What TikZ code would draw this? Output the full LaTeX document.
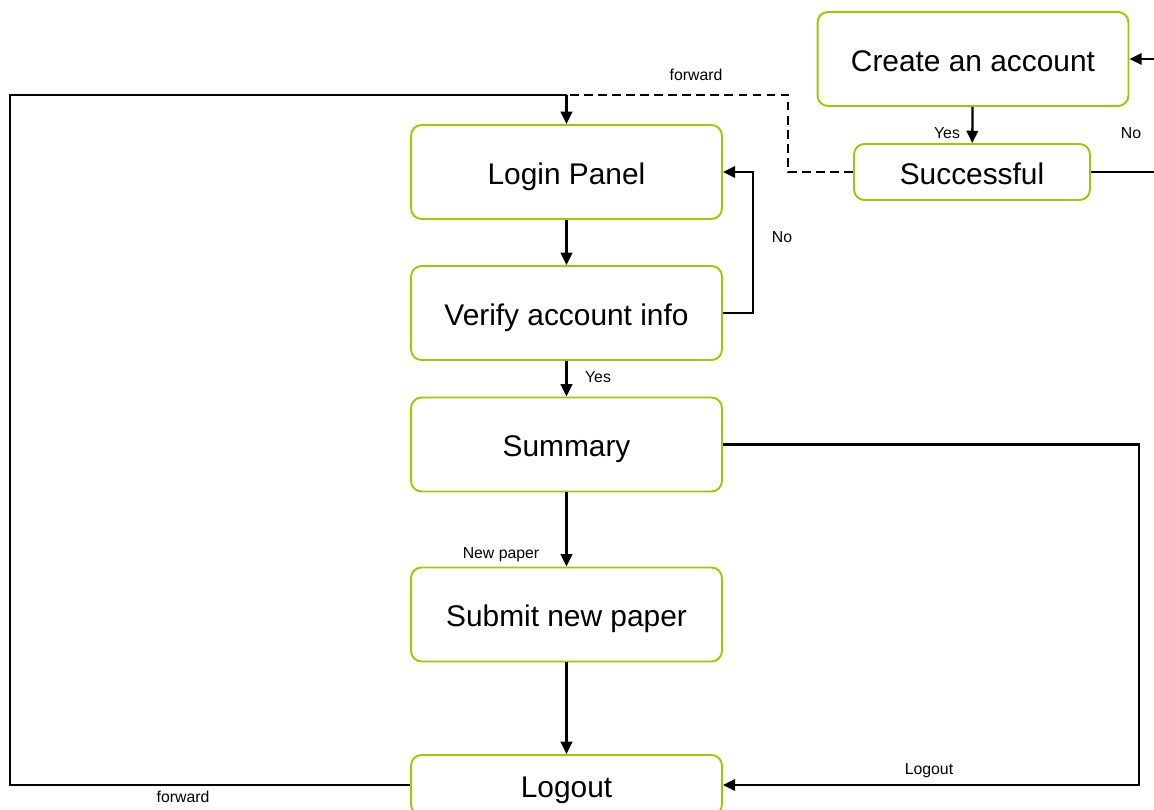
\documentclass[tikz,border=0pt]{standalone}
\usepackage{fontspec}
\setmainfont{Liberation Sans}
\usepackage{tikz}
\usetikzlibrary{arrows.meta}
\definecolor{boxgreen}{RGB}{153,204,0}
\tikzset{
  stepbox/.style={draw=boxgreen, line width=1.1pt, rounded corners=6pt, minimum width=6.22cm, minimum height=1.88cm, text height=14pt, text depth=0pt, font=\fontsize{17}{20}\selectfont},
  lbl/.style={font=\fontsize{9}{11}\selectfont, inner sep=1pt},
  conn/.style={line width=1.3pt},
  arr/.style={conn, -{Triangle[length=7pt,width=6.5pt]}}
}

\begin{document}
\begin{tikzpicture}[x=0.02cm,y=-0.02cm]
\useasboundingbox (0,0) rectangle (1154,810);
\clip (0,0) rectangle (1154,810);
\node[stepbox] (create) at (973,59) {Create an account};
\node[stepbox, minimum width=4.72cm, minimum height=1.12cm] (success) at (972,172) {Successful};
\node[stepbox] (login) at (566.5,172) {Login Panel};
\node[stepbox] (verify) at (566.5,313) {Verify account info};
\node[stepbox] (summary) at (566.5,444.5) {Summary};
\node[stepbox] (submit) at (566.5,614.5) {Submit new paper};
\node[stepbox, minimum height=1.2cm] (logout) at (566.5,785) {Logout};
\coordinate (fwd) at (566.5,95);
\coordinate (lft) at (10,95);
\coordinate (rgt) at (1190,172);
\draw[conn] (logout.west) -| (lft) -- (fwd);
\draw[arr] (fwd) -- (login.north);
\draw[conn, dashed, dash pattern=on 5pt off 3pt] (success.west) -- ++(-65,0) |- (fwd);
\draw[arr] (login) -- (verify);
\draw[arr] (verify.east) -- ++(30,0) |- (login.east);
\draw[arr] (verify) -- (summary);
\draw[arr] (summary) -- (submit);
\draw[arr] (submit) -- (logout);
\draw[arr] (summary.east) -- ++(416,0) |- (logout.east);
\draw[arr] (create) -- (success);
\draw[arr] (success.east) -- (rgt) |- (create.east);
\node[lbl] (fwdtop) at (696,75) {forward};
\node[lbl] (fwdbot) at (183,797) {forward};
\node[lbl] (nologin) at (782,237) {No};
\node[lbl] (yesverify) at (598,377) {Yes};
\node[lbl] (newpaper) at (501,555) {New paper};
\node[lbl] (logoutlbl) at (929,771) {Logout};
\node[lbl] (yescreate) at (947,133) {Yes};
\node[lbl] (nocreate) at (1131,133) {No};
\end{tikzpicture}
\end{document}
